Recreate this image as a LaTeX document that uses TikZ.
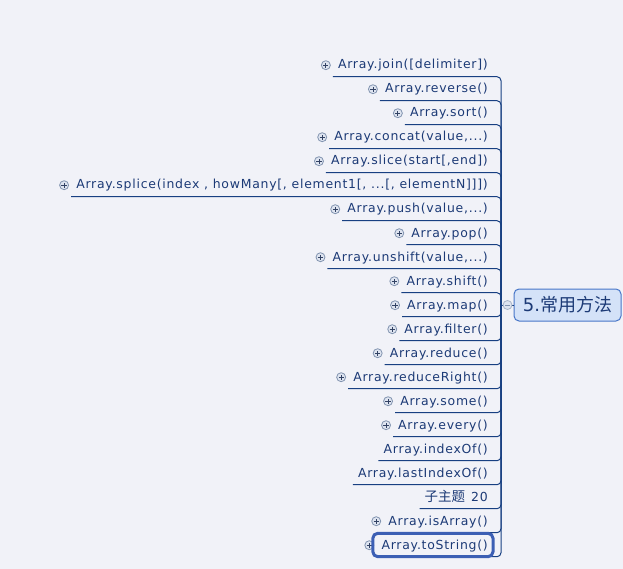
\documentclass[tikz,border=0pt]{standalone}
\usepackage{fontspec}
\setmainfont{DejaVu Sans}
\newfontfamily\cjk{Noto Sans CJK SC}
\newfontfamily\itemfont[LetterSpace=6]{DejaVu Sans}
\definecolor{bg}{RGB}{241,242,248}
\definecolor{itemtext}{RGB}{28,58,118}
\definecolor{linecol}{RGB}{24,64,130}
\definecolor{iconring}{RGB}{130,148,176}
\definecolor{iconfill}{RGB}{222,228,240}
\definecolor{iconmark}{RGB}{50,66,100}
\definecolor{rootfill}{RGB}{212,226,248}
\definecolor{rootline}{RGB}{72,118,200}
\definecolor{selcol}{RGB}{60,95,180}
\tikzset{
  item/.style={anchor=south east, inner xsep=5pt, inner ysep=4.5pt,
    text height=9pt, text depth=3pt, text=itemtext,
    font=\itemfont\fontsize{12.45}{14}\selectfont},
  branch/.style={draw=linecol, line width=1pt, rounded corners=4pt},
  plusicon/.style={circle, draw=iconring, fill=iconfill, minimum size=9pt,
    inner sep=0pt, line width=0.8pt,
    path picture={\draw[iconmark, line width=0.8pt]
      ([xshift=-2.6pt]path picture bounding box.center) --
      ([xshift=2.6pt]path picture bounding box.center)
      ([yshift=-2.6pt]path picture bounding box.center) --
      ([yshift=2.6pt]path picture bounding box.center);}},
  foldicon/.style={circle, draw=iconring!70, fill=iconfill, minimum size=9pt,
    inner sep=0pt, line width=0.8pt,
    path picture={\draw[iconring, line width=0.8pt]
      ([xshift=-2.5pt]path picture bounding box.center) --
      ([xshift=2.5pt]path picture bounding box.center);}},
  rootbox/.style={draw=rootline, fill=rootfill, rounded corners=5pt,
    line width=1pt, minimum width=107pt, minimum height=32pt,
    text=itemtext, font=\fontsize{18}{20}\selectfont},
  selbox/.style={draw=selcol, line width=3pt, rounded corners=5pt}
}
\begin{document}
\begin{tikzpicture}[x=1pt, y=-1pt]
  \path[use as bounding box, fill=bg] (0,0) rectangle (623,569);
  \node[rootbox] (root) at (567.5,305) {5.{\cjk 常用方法}};
  \coordinate (hub) at (501,305);
  \draw[branch] (root.west) -- (hub);
  \node[foldicon] (fold) at (507.5,305) {};
  \foreach \nm/\txt/\ic [count=\i from 0] in {
      join/{Array.join([delimiter])}/1,
      reverse/{Array.reverse()}/1,
      sort/{Array.sort()}/1,
      concat/{Array.concat(value,...)}/1,
      slice/{Array.slice(start[,end])}/1,
      splice/{Array.splice(index , howMany[, element1[, ...[, elementN]]])}/1,
      push/{Array.push(value,...)}/1,
      pop/{Array.pop()}/1,
      unshift/{Array.unshift(value,...)}/1,
      shift/{Array.shift()}/1,
      map/{Array.map()}/1,
      filter/{Array.filter()}/1,
      reduce/{Array.reduce()}/1,
      reduceRight/{Array.reduceRight()}/1,
      some/{Array.some()}/1,
      every/{Array.every()}/1,
      indexOf/{Array.indexOf()}/0,
      lastIndexOf/{Array.lastIndexOf()}/0,
      sub/{{\cjk\fontsize{13.5}{14}\selectfont 子主题}\hspace{6pt}20}/0,
      isArray/{Array.isArray()}/1,
      toString/{Array.toString()}/1}
  {
    \node[item] (\nm) at (493,{76.7+24*\i}) {\txt};
    \ifnum\ic=1 \node[plusicon] at ([xshift=-7pt,yshift=11.5pt]\nm.south west) {}; \fi
    \draw[branch] (hub) |- (\nm.south west);
  }
  % selected topic
  \draw[selbox] ([xshift=-3.5pt]toString.south west) rectangle ([yshift=2pt]toString.north east);
\end{tikzpicture}
\end{document}
